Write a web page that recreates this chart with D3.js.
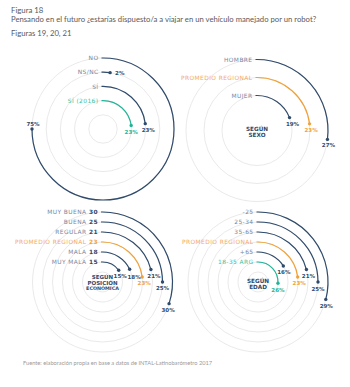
<!DOCTYPE html>
<html><head><meta charset="utf-8">
<script src="https://cdn.jsdelivr.net/npm/d3@7"></script>
<style>
html,body{margin:0;padding:0;background:#fff;}
svg{display:block;}
</style></head>
<body>
<svg id="c" width="350" height="387"></svg>
<script>
// ---- DATA ----
const fig18Labels = ["NO", "NS/NC", "SÍ", "SÍ (2016)"];
const fig18Values = [75, 2, 23, 23];
const fig18Kinds  = ["base", "base", "base", "teal"];

const fig19Labels = ["HOMBRE", "PROMEDIO REGIONAL", "MUJER"];
const fig19Values = [27, 23, 19];
const fig19Kinds  = ["base", "avg", "base"];

const fig20Labels = ["MUY BUENA", "BUENA", "REGULAR", "PROMEDIO REGIONAL", "MALA", "MUY MALA"];
const fig20Values = [30, 25, 21, 23, 18, 15];
const fig20Kinds  = ["base", "base", "base", "avg", "base", "base"];

const fig21Labels = ["-25", "25-34", "35-65", "PROMEDIO REGIONAL", "+65", "18-35 ARG"];
const fig21Values = [29, 25, 21, 23, 16, 26];
const fig21Kinds  = ["base", "base", "base", "avg", "base", "teal"];

// ---- STYLE ----
const arcColor   = {base: "#2f4a6b", avg: "#f0a23a", teal: "#22b497"};
const labelColor = {base: "#7787a0", avg: "#f3a866", teal: "#3bbf9f"};
const valColor   = {base: "#2f4a6b", avg: "#f0a23a", teal: "#22b497"};
const ringColor = "#e6e6e8";
const FONT = "'DejaVu Sans', sans-serif";

const svg = d3.select("#c");

// Titles
const T = svg.append("g").attr("font-family", "Lato, sans-serif").attr("fill", "#5a5a5a");
T.append("text").attr("x", 11).attr("y", 13).attr("font-size", 7.8).text("Figura 18");
T.append("text").attr("x", 11).attr("y", 22).attr("font-size", 7.7).text("Pensando en el futuro ¿estarías dispuesto/a a viajar en un vehículo manejado por un robot?");
T.append("text").attr("x", 11).attr("y", 35.5).attr("font-size", 7.7).text("Figuras 19, 20, 21");
svg.append("text").attr("x", 23).attr("y", 365).attr("font-family", "Lato, sans-serif")
  .attr("font-size", 5.7).attr("fill", "#9a9a9a")
  .text("Fuente: elaboración propia en base a datos de INTAL-Latinobarómetro 2017");

const angle = d3.scaleLinear().domain([0, 100]).range([0, 2 * Math.PI]);

function drawChart(opt) {
  const {labels, values, kinds, cx, cy, rOuter, rInner, extraRing, showVal, center, valOff} = opt;
  const rad = d3.scalePoint().domain(labels).range([rOuter, rInner]);
  const g = svg.append("g");
  const step = labels.length > 1 ? (rOuter - rInner) / (labels.length - 1) : 0;
  const rings = labels.map(l => rad(l));
  if (extraRing) rings.push(rInner - step);
  g.selectAll("circle.ring").data(rings).join("circle").attr("class", "ring")
    .attr("cx", cx).attr("cy", cy).attr("r", d => d)
    .attr("fill", "none").attr("stroke", ringColor).attr("stroke-width", 0.9);

  if (center) {
    const ct = g.append("g").attr("font-family", FONT).attr("font-weight", "bold")
      .attr("fill", "#2f4a6b").attr("text-anchor", "middle");
    center.forEach(c => ct.append("text").attr("x", cx).attr("y", cy + c.dy)
      .attr("font-size", c.fs).text(c.t));
  }

  labels.forEach((lab, i) => {
    const r = rad(lab);
    const a = angle(values[i]);
    const k = kinds[i];
    const p = d3.path();
    p.moveTo(cx - 1.5, cy - r);
    p.lineTo(cx, cy - r);
    p.arc(cx, cy, r, -Math.PI / 2, -Math.PI / 2 + a, false);
    g.append("path").attr("d", p.toString()).attr("fill", "none")
      .attr("stroke", arcColor[k]).attr("stroke-width", 1.2);
    const dx = cx + r * Math.sin(a), dy = cy - r * Math.cos(a);
    g.append("circle").attr("cx", dx).attr("cy", dy).attr("r", 1.7).attr("fill", arcColor[k]);

    const t = g.append("text").attr("x", cx - 4.5).attr("y", cy - r + 2.1)
      .attr("text-anchor", "end").attr("font-family", FONT).attr("font-size", 5.9)
      .attr("letter-spacing", 0.42).attr("fill", labelColor[k]).text(lab);
    if (showVal) {
      t.append("tspan").attr("font-weight", "bold").attr("fill", valColor[k]).text(" " + values[i]);
    }
    const off = valOff ? valOff[i] : [0, 8.5];
    const anchor = off[2] || "middle";
    g.append("text").attr("x", dx + off[0]).attr("y", dy + off[1]).attr("text-anchor", anchor)
      .attr("font-family", FONT).attr("font-weight", "bold").attr("font-size", 5.5)
      .attr("fill", valColor[k]).text(values[i] + "%");
  });
}

drawChart({labels: fig18Labels, values: fig18Values, kinds: fig18Kinds,
  cx: 103, cy: 129, rOuter: 71, rInner: 28.4, extraRing: true, showVal: false,
  valOff: [[1, -3.5], [5, 2.2, "start"], [3, 8.5], [0, 8.5]]});

drawChart({labels: fig19Labels, values: fig19Values, kinds: fig19Kinds,
  cx: 257, cy: 130.5, rOuter: 71, rInner: 35, extraRing: false, showVal: false,
  valOff: [[1, 7.5], [1.5, 8.5], [3, 8]],
  center: [{t: "SEGÚN", dy: 0.5, fs: 5.7}, {t: "SEXO", dy: 6.5, fs: 5.7}]});

drawChart({labels: fig20Labels, values: fig20Values, kinds: fig20Kinds,
  cx: 102.5, cy: 282, rOuter: 70, rInner: 20, extraRing: true, showVal: true,
  valOff: [[-1, 8], [0, 8], [3, 8], [2, 8], [4.5, 9.5], [1.5, 7.3]],
  center: [{t: "SEGÚN", dy: -3, fs: 5.5}, {t: "POSICIÓN", dy: 2.6, fs: 5.5}, {t: "ECONÓMICA", dy: 8, fs: 4.8}]});

drawChart({labels: fig21Labels, values: fig21Values, kinds: fig21Kinds,
  cx: 258, cy: 282, rOuter: 70, rInner: 20, extraRing: true, showVal: false,
  valOff: [[0.5, 8.5], [0, 8.5], [2, 8.5], [1.5, 8.5], [0.5, 8.5], [0, 8.5]],
  center: [{t: "SEGÚN", dy: 0.5, fs: 5.7}, {t: "EDAD", dy: 7, fs: 5.7}]});
</script>
</body></html>
